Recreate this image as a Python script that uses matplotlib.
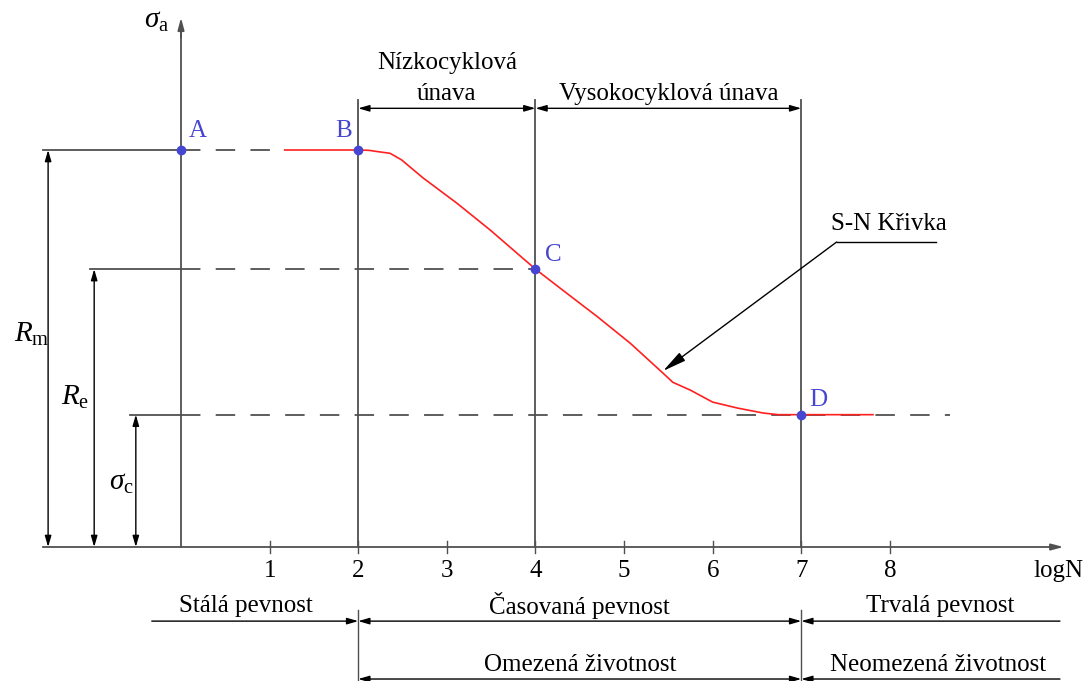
import matplotlib
matplotlib.use("Agg")
import matplotlib.pyplot as plt

plt.rcParams["font.family"] = ["Liberation Serif", "DejaVu Serif"]
plt.rcParams["mathtext.fontset"] = "custom"
plt.rcParams["mathtext.rm"] = "Liberation Serif"
plt.rcParams["mathtext.it"] = "Liberation Serif:italic"
plt.rcParams["lines.scale_dashes"] = False

# --- data -------------------------------------------------------------
Rm, Re, sigma_c = 600, 420, 200            # stress levels
point_names = ["A", "B", "C", "D"]
point_logN = [0, 2, 4, 7]
point_sigma = [Rm, Rm, Re, sigma_c]

# S-N curve (logN, sigma_a)
curve_logN = [1.17, 2.0, 2.12, 2.25, 2.36, 2.49, 2.73, 3.11, 3.49, 4.0,
              4.31, 4.70, 5.07, 5.43, 5.55, 5.75, 6.00, 6.28, 6.57, 6.74,
              7.0, 7.81]
curve_sigma = [600, 600, 599.5, 597, 595, 585, 558, 520, 479, 420,
               388, 348, 308, 264, 249, 237, 219, 210, 202.5, 200,
               200, 200]

tick_values = [1, 2, 3, 4, 5, 6, 7, 8]
tick_labels = ["1", "2", "3", "4", "5", "6", "7", "8"]

regions_top = ["Nízkocyklová", "únava", "Vysokocyklová únava"]
regions_strength = ["Stálá pevnost", "Časovaná pevnost", "Trvalá pevnost"]
regions_life = ["Omezená životnost", "Neomezená životnost"]

# --- figure -----------------------------------------------------------
fig = plt.figure(figsize=(10.86, 6.81), dpi=100)
ax = fig.add_axes([0, 0, 1, 1])
ax.set_xlim(-2.043, 10.214)
ax.set_ylim(-202.5, 826.7)
ax.axis("off")

GRAY = "#505050"
BLUE = "#4646d2"
FS = 18
FS_MATH = 21

def dim(x0, y0, x1, y1, style="<|-|>"):
    ax.annotate("", xy=(x1, y1), xytext=(x0, y0),
                arrowprops=dict(arrowstyle=style + ",head_length=0.55,head_width=0.16",
                                lw=1.0, color="black", shrinkA=0, shrinkB=0,
                                mutation_scale=12))

# axes
ax.plot([-1.56, 9.85], [0, 0], color=GRAY, lw=1.3)
ax.annotate("", xy=(9.96, 0), xytext=(9.8, 0),
            arrowprops=dict(arrowstyle="-|>,head_length=0.6,head_width=0.16",
                            lw=1.3, color=GRAY, shrinkA=0, shrinkB=0, mutation_scale=12))
ax.plot([0, 0], [0, 780], color=GRAY, lw=1.3)
ax.annotate("", xy=(0, 800), xytext=(0, 770),
            arrowprops=dict(arrowstyle="-|>,head_length=0.6,head_width=0.16",
                            lw=1.3, color=GRAY, shrinkA=0, shrinkB=0, mutation_scale=12))
ax.text(-0.28, 795, r"$\sigma_\mathrm{a}$", fontsize=FS_MATH, ha="center", va="center")

for v, lab in zip(tick_values, tick_labels):
    ax.plot([v, v], [-9, 9], color=GRAY, lw=1.0)
    ax.text(v, -37, lab, fontsize=FS, ha="center", va="center")
ax.text(10.19, -37, "logN", fontsize=FS, ha="right", va="center")

# vertical boundary lines
for v in [2, 4, 7]:
    ax.plot([v, v], [0, 675], color=GRAY, lw=1.3)
for v in [2, 7]:
    ax.plot([v, v], [-95, -202.5], color=GRAY, lw=1.0)

# horizontal extension lines and dashed levels
ax.plot([-1.56, 0], [Rm, Rm], color=GRAY, lw=1.3)
ax.plot([-1.03, 0], [Re, Re], color=GRAY, lw=1.3)
ax.plot([-0.58, 0], [sigma_c, sigma_c], color=GRAY, lw=1.3)
dash = (0, (14, 11))
ax.plot([0, curve_logN[0]], [Rm, Rm], color=GRAY, lw=1.3, ls=dash)
ax.plot([0, 4], [Re, Re], color=GRAY, lw=1.3, ls=dash)
ax.plot([0, 8.68], [sigma_c, sigma_c], color=GRAY, lw=1.3, ls=dash)

# stress dimensions
dim(-1.50, 0, -1.50, Rm)
dim(-0.98, 0, -0.98, Re)
dim(-0.51, 0, -0.51, sigma_c)
ax.text(-1.68, 322, r"$R_\mathrm{m}$", fontsize=FS_MATH, ha="center", va="center")
ax.text(-1.20, 226, r"$R_\mathrm{e}$", fontsize=FS_MATH, ha="center", va="center")
ax.text(-0.67, 97, r"$\sigma_\mathrm{c}$", fontsize=FS_MATH, ha="center", va="center")

# S-N curve and characteristic points
ax.plot(curve_logN, curve_sigma, color="#ff2020", lw=1.2, zorder=3,
        solid_joinstyle="round")
ax.plot(point_logN, point_sigma, "o", color=BLUE, ms=6, zorder=4)
label_offsets = [(0.19, 29), (-0.17, 29), (0.2, 21), (0.19, 22)]
for n, x, y, (dx, dy) in zip(point_names, point_logN, point_sigma, label_offsets):
    ax.text(x + dx, y + dy, n, color=BLUE, fontsize=FS, ha="center", va="center")

# fatigue regions on top
dim(2, 663, 4, 663)
dim(4, 663, 7, 663)
ax.text(3.0, 731, regions_top[0], fontsize=FS, ha="center", va="center")
ax.text(3.0, 685, regions_top[1], fontsize=FS, ha="center", va="center")
ax.text(5.51, 685, regions_top[2], fontsize=FS, ha="center", va="center")

# leader for the curve
ax.plot([7.40, 8.52], [461, 461], color="black", lw=1.0)
ax.annotate("", xy=(5.44, 266), xytext=(7.40, 461),
            arrowprops=dict(arrowstyle="-|>,head_length=1.2,head_width=0.25",
                            lw=1.0, color="black", shrinkA=0, shrinkB=0,
                            mutation_scale=12))
ax.text(7.99, 488, "S-N Křivka", fontsize=FS, ha="center", va="center")

# strength / life regions below the axis
y1, y2 = -112, -199.5
dim(-0.33, y1, 2, y1, style="-|>")
dim(2, y1, 7, y1)
dim(9.92, y1, 7, y1, style="-|>")
ax.text(0.73, -89, regions_strength[0], fontsize=FS, ha="center", va="center")
ax.text(4.5, -89, regions_strength[1], fontsize=FS, ha="center", va="center")
ax.text(8.57, -89, regions_strength[2], fontsize=FS, ha="center", va="center")

dim(2, y2, 7, y2)
dim(9.92, y2, 7, y2, style="-|>")
ax.text(4.5, -178, regions_life[0], fontsize=FS, ha="center", va="center")
ax.text(8.54, -178, regions_life[1], fontsize=FS, ha="center", va="center")

fig.savefig("out.png", dpi=100)
